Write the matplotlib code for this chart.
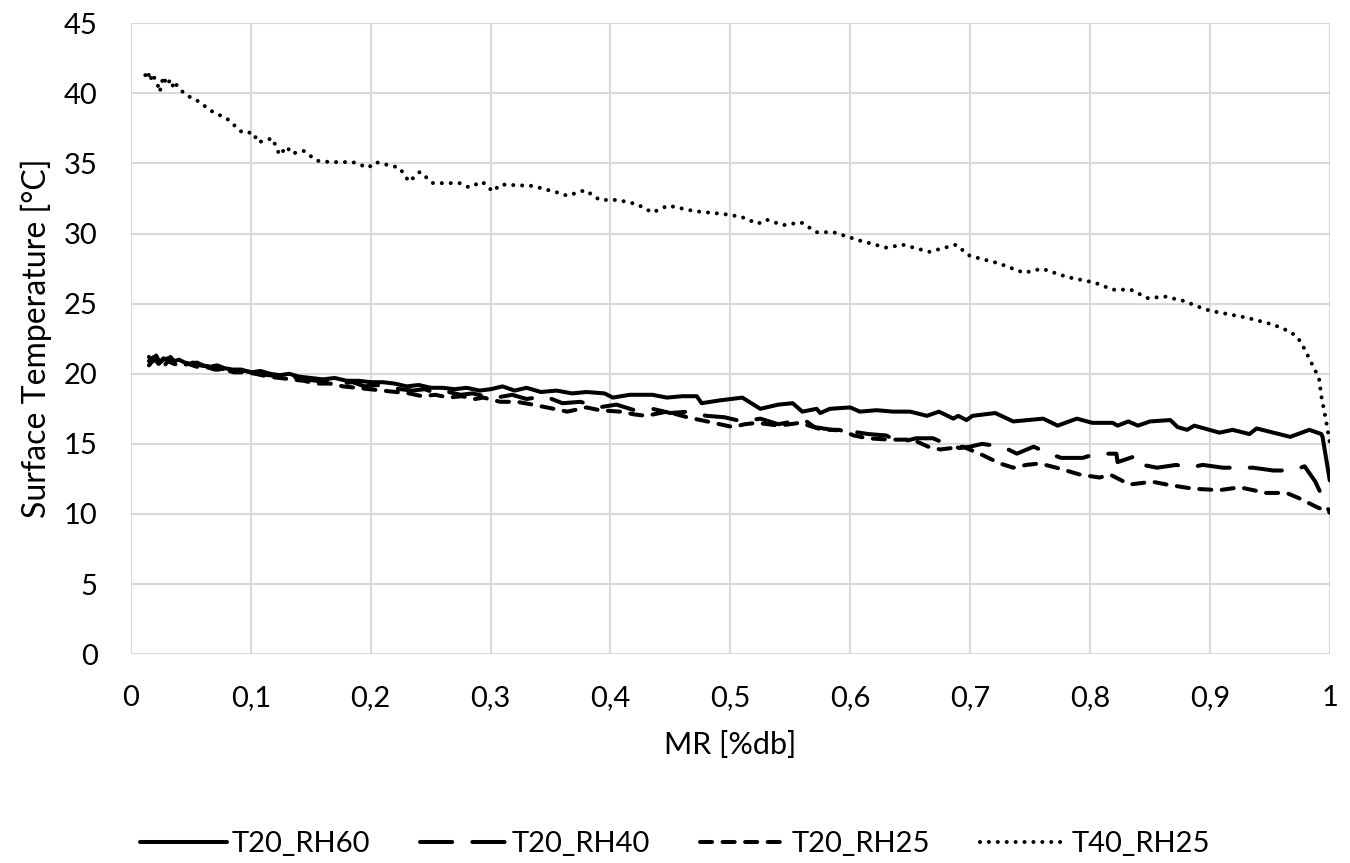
import matplotlib
matplotlib.use("Agg")
import matplotlib.pyplot as plt

plt.rcParams['font.family'] = ['Lato', 'DejaVu Sans']

# T20_RH60 (solid)
mr_rh60 = [0.015, 0.018, 0.021, 0.024, 0.027, 0.030, 0.033, 0.036, 0.040, 0.045,
           0.050, 0.055, 0.060, 0.066, 0.072, 0.078, 0.085, 0.092, 0.100, 0.108,
           0.116, 0.124, 0.132, 0.140, 0.150, 0.160, 0.170, 0.180, 0.190, 0.200,
           0.210, 0.220, 0.230, 0.240, 0.250, 0.260, 0.270, 0.280, 0.291, 0.300,
           0.310, 0.320, 0.330, 0.342, 0.355, 0.368, 0.380, 0.395, 0.402, 0.416,
           0.435, 0.447, 0.460, 0.472, 0.476, 0.491, 0.510, 0.525, 0.540, 0.552,
           0.560, 0.572, 0.575, 0.583, 0.600, 0.608, 0.622, 0.636, 0.650, 0.664,
           0.674, 0.686, 0.690, 0.697, 0.702, 0.721, 0.736, 0.761, 0.773, 0.789,
           0.802, 0.819, 0.823, 0.832, 0.840, 0.850, 0.867, 0.873, 0.881, 0.887,
           0.908, 0.919, 0.933, 0.939, 0.967, 0.983, 0.993, 0.994, 1.000]
t_rh60 = [21.2, 20.9, 21.3, 20.8, 21.1, 21.0, 21.2, 20.9, 21.0, 20.8,
          20.7, 20.8, 20.6, 20.5, 20.6, 20.4, 20.3, 20.3, 20.1, 20.2,
          20.0, 19.9, 20.0, 19.8, 19.7, 19.6, 19.7, 19.5, 19.5, 19.4,
          19.4, 19.3, 19.1, 19.2, 19.0, 19.0, 18.9, 19.0, 18.8, 18.9,
          19.1, 18.8, 19.0, 18.7, 18.8, 18.6, 18.7, 18.6, 18.3, 18.5,
          18.5, 18.3, 18.4, 18.4, 17.9, 18.1, 18.3, 17.5, 17.8, 17.9,
          17.3, 17.5, 17.2, 17.5, 17.6, 17.3, 17.4, 17.3, 17.3, 17.0,
          17.3, 16.8, 17.0, 16.7, 17.0, 17.2, 16.6, 16.8, 16.3, 16.8,
          16.5, 16.5, 16.3, 16.6, 16.3, 16.6, 16.7, 16.2, 16.0, 16.3,
          15.8, 16.0, 15.7, 16.1, 15.5, 16.0, 15.7, 15.5, 12.4]

# T20_RH40 (long dash)
mr_rh40 = [0.015, 0.019, 0.023, 0.027, 0.031, 0.035, 0.040, 0.046, 0.052, 0.058,
           0.065, 0.072, 0.080, 0.088, 0.096, 0.105, 0.115, 0.125, 0.135, 0.145,
           0.155, 0.165, 0.175, 0.185, 0.195, 0.205, 0.215, 0.225, 0.235, 0.245,
           0.255, 0.265, 0.275, 0.285, 0.295, 0.305, 0.318, 0.330, 0.345, 0.360,
           0.375, 0.390, 0.405, 0.420, 0.435, 0.450, 0.465, 0.480, 0.495, 0.510,
           0.525, 0.540, 0.552, 0.562, 0.570, 0.585, 0.600, 0.615, 0.630, 0.641,
           0.655, 0.669, 0.680, 0.691, 0.700, 0.710, 0.727, 0.739, 0.753, 0.766,
           0.776, 0.794, 0.805, 0.822, 0.823, 0.837, 0.838, 0.856, 0.872, 0.883,
           0.894, 0.911, 0.936, 0.953, 0.969, 0.979, 0.988, 1.000]
t_rh40 = [20.9, 21.2, 20.7, 21.0, 21.1, 20.8, 20.9, 20.7, 20.8, 20.6,
          20.5, 20.4, 20.3, 20.2, 20.2, 20.0, 19.9, 19.8, 19.8, 19.6,
          19.5, 19.5, 19.3, 19.4, 19.1, 19.2, 19.0, 18.9, 18.8, 18.9,
          18.6, 18.7, 18.5, 18.6, 18.4, 18.3, 18.5, 18.2, 18.4, 17.9,
          18.0, 17.6, 17.8, 17.4, 17.5, 17.2, 17.3, 17.0, 16.9, 16.6,
          16.8, 16.4, 16.6, 16.7, 16.2, 16.0, 15.9, 15.7, 15.6, 15.1,
          15.4, 15.4, 15.0, 14.7, 14.8, 15.0, 14.8, 14.3, 14.8, 14.3,
          14.0, 14.0, 14.3, 14.3, 13.7, 14.1, 13.6, 13.3, 13.5, 13.3,
          13.5, 13.3, 13.3, 13.1, 13.1, 13.4, 12.3, 10.1]

# T20_RH25 (short dash)
mr_rh25 = [0.015, 0.019, 0.023, 0.027, 0.031, 0.036, 0.042, 0.048, 0.055, 0.062,
           0.070, 0.078, 0.086, 0.095, 0.104, 0.114, 0.124, 0.134, 0.144, 0.155,
           0.166, 0.177, 0.188, 0.199, 0.210, 0.221, 0.232, 0.243, 0.254, 0.265,
           0.276, 0.287, 0.294, 0.308, 0.322, 0.335, 0.347, 0.364, 0.380, 0.391,
           0.408, 0.420, 0.430, 0.447, 0.464, 0.475, 0.486, 0.502, 0.512, 0.522,
           0.541, 0.558, 0.577, 0.591, 0.603, 0.614, 0.633, 0.652, 0.665, 0.675,
           0.694, 0.708, 0.725, 0.736, 0.747, 0.758, 0.772, 0.792, 0.808, 0.817,
           0.833, 0.852, 0.864, 0.886, 0.908, 0.925, 0.947, 0.964, 0.975, 0.989,
           1.000]
t_rh25 = [20.6, 21.0, 20.8, 20.5, 20.9, 20.7, 20.6, 20.7, 20.5, 20.5,
          20.3, 20.3, 20.1, 20.1, 20.0, 19.8, 19.7, 19.6, 19.5, 19.3,
          19.3, 19.1, 19.0, 18.9, 18.8, 18.7, 18.6, 18.4, 18.5, 18.3,
          18.4, 18.2, 18.3, 18.0, 18.0, 17.8, 17.6, 17.3, 17.6, 17.4,
          17.3, 17.1, 17.0, 17.3, 16.9, 16.7, 16.5, 16.2, 16.4, 16.5,
          16.3, 16.5, 16.0, 16.0, 15.6, 15.4, 15.3, 15.3, 14.8, 14.6,
          14.8, 14.3, 13.6, 13.3, 13.5, 13.6, 13.3, 12.8, 12.6, 12.8,
          12.1, 12.3, 12.1, 11.8, 11.7, 11.9, 11.5, 11.5, 11.1, 10.5,
          10.1]

# T40_RH25 (dotted)
mr_t40 = [0.012, 0.014, 0.016, 0.018, 0.020, 0.022, 0.024, 0.027, 0.030, 0.033,
          0.036, 0.038, 0.042, 0.046, 0.050, 0.055, 0.068, 0.080, 0.093, 0.102,
          0.106, 0.118, 0.124, 0.130, 0.134, 0.144, 0.155, 0.166, 0.185, 0.198,
          0.204, 0.224, 0.232, 0.241, 0.252, 0.274, 0.282, 0.293, 0.302, 0.308,
          0.335, 0.357, 0.364, 0.379, 0.391, 0.406, 0.422, 0.435, 0.448, 0.470,
          0.494, 0.509, 0.523, 0.530, 0.544, 0.559, 0.572, 0.586, 0.608, 0.630,
          0.644, 0.666, 0.688, 0.700, 0.723, 0.745, 0.760, 0.781, 0.804, 0.819,
          0.834, 0.848, 0.863, 0.878, 0.893, 0.900, 0.931, 0.953, 0.967, 0.973,
          0.977, 0.984, 0.991, 0.993, 0.997, 1.000]
t_t40 = [41.3, 41.6, 40.9, 41.4, 41.0, 40.7, 40.1, 41.2, 40.6, 41.0,
         40.3, 40.6, 40.2, 39.9, 39.7, 39.5, 38.7, 38.2, 37.2, 37.2,
         36.5, 36.8, 35.6, 36.2, 35.7, 35.9, 35.2, 35.1, 35.1, 34.7,
         35.1, 34.7, 33.7, 34.4, 33.6, 33.6, 33.3, 33.7, 33.0, 33.5,
         33.4, 32.9, 32.7, 33.1, 32.4, 32.4, 32.1, 31.5, 32.0, 31.6,
         31.4, 31.2, 30.7, 31.0, 30.6, 30.8, 30.1, 30.1, 29.5, 29.0,
         29.2, 28.7, 29.2, 28.4, 27.9, 27.2, 27.5, 26.9, 26.5, 26.0,
         26.0, 25.4, 25.5, 25.2, 24.7, 24.5, 24.0, 23.5, 23.0, 22.6,
         22.1, 20.9, 19.7, 18.4, 16.6, 15.1]

labels = ['T20_RH60', 'T20_RH40', 'T20_RH25', 'T40_RH25']
x_ticks = [0, 0.1, 0.2, 0.3, 0.4, 0.5, 0.6, 0.7, 0.8, 0.9, 1]
x_tick_labels = ['0', '0,1', '0,2', '0,3', '0,4', '0,5', '0,6', '0,7', '0,8', '0,9', '1']
y_ticks = [0, 5, 10, 15, 20, 25, 30, 35, 40, 45]

fig = plt.figure(figsize=(13.5, 8.63), dpi=100)
ax = fig.add_axes([0.097, 0.242, 0.888, 0.731])

lw = 2.9
ax.plot(mr_rh60, t_rh60, color='black', lw=lw, solid_joinstyle='round',
        solid_capstyle='round', label=labels[0])
ax.plot(mr_rh40, t_rh40, color='black', lw=lw, linestyle=(0, (8, 5)),
        dash_capstyle='round', dash_joinstyle='round', label=labels[1])
ax.plot(mr_rh25, t_rh25, color='black', lw=lw, linestyle=(0, (3, 2.6)),
        dash_capstyle='round', dash_joinstyle='round', label=labels[2])
ax.plot(mr_t40, t_t40, color='black', lw=lw, linestyle=(0, (0.01, 2.2)),
        dash_capstyle='round', label=labels[3])

ax.set_xlim(0, 1)
ax.set_ylim(0, 45)
ax.set_xticks(x_ticks)
ax.set_xticklabels(x_tick_labels)
ax.set_yticks(y_ticks)
ax.grid(True, color='#d9d9d9', lw=1.5)
ax.set_axisbelow(True)
for s in ax.spines.values():
    s.set_visible(False)
ax.tick_params(length=0, labelsize=21, colors='black')
ax.tick_params(axis='x', pad=22)
ax.tick_params(axis='y', pad=24)

ax.set_xlabel('MR [%db]', fontsize=22)
ax.set_ylabel('Surface Temperature [°C]', fontsize=23)
ax.xaxis.set_label_coords(0.5, -0.122)
ax.yaxis.set_label_coords(-0.066, 0.5)

fig.legend(loc='center', bbox_to_anchor=(0.5, 0.022), ncol=4, frameon=False,
           fontsize=21, handlelength=3.0, handletextpad=0.15, columnspacing=1.7)

fig.savefig('out.png', dpi=100)
